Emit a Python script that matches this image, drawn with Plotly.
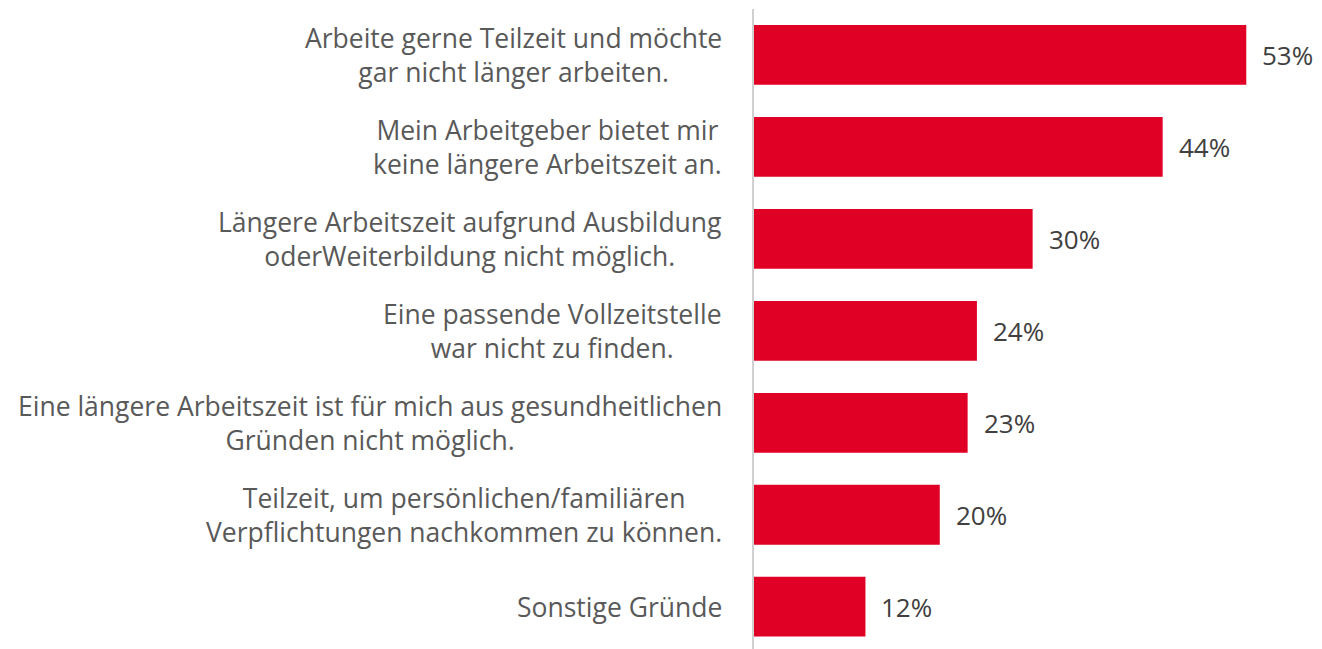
import plotly.graph_objects as go

categories = [
    "Arbeite gerne Teilzeit und möchte<br>gar nicht länger arbeiten.",
    "Mein Arbeitgeber bietet mir<br>keine längere Arbeitszeit an.",
    "Längere Arbeitszeit aufgrund Ausbildung<br>oderWeiterbildung nicht möglich.",
    "Eine passende Vollzeitstelle<br>war nicht zu finden.",
    "Eine längere Arbeitszeit ist für mich aus gesundheitlichen<br>Gründen nicht möglich.",
    "Teilzeit, um persönlichen/familiären<br>Verpflichtungen nachkommen zu können.",
    "Sonstige Gründe",
]
values = [53, 44, 30, 24, 23, 20, 12]
value_labels = ["53%", "44%", "30%", "24%", "23%", "20%", "12%"]

FONT = "'Open Sans', Lato, sans-serif"
positions = list(range(len(categories)))

fig = go.Figure()
fig.add_trace(go.Bar(
    x=values, y=positions, orientation="h",
    marker=dict(color="#E10025", line=dict(width=0)),
    width=0.65, hoverinfo="skip",
))

annotations = []
for p, c in zip(positions, categories):
    annotations.append(dict(
        x=0, xref="paper", y=p, yref="y", text=c, showarrow=False,
        xanchor="right", yanchor="middle", align="center", xshift=-30,
        font=dict(family=FONT, size=26.5, color="#595959"),
    ))
for p, v, t in zip(positions, values, value_labels):
    annotations.append(dict(
        x=v, xref="x", y=p, yref="y", text=t, showarrow=False,
        xanchor="left", yanchor="middle", xshift=14,
        font=dict(family=FONT, size=26, color="#404040"),
    ))

fig.update_layout(
    width=1314, height=641,
    margin=dict(l=746, r=20, t=1, b=0),
    paper_bgcolor="white", plot_bgcolor="white",
    showlegend=False,
    annotations=annotations,
    xaxis=dict(range=[0, 59.0], visible=False, fixedrange=True),
    yaxis=dict(range=[6.46, -0.5], showticklabels=False, showgrid=False,
               zeroline=False, showline=True, linecolor="#D0D0D0", linewidth=2,
               ticks=""),
)

fig.write_html("out.html")
